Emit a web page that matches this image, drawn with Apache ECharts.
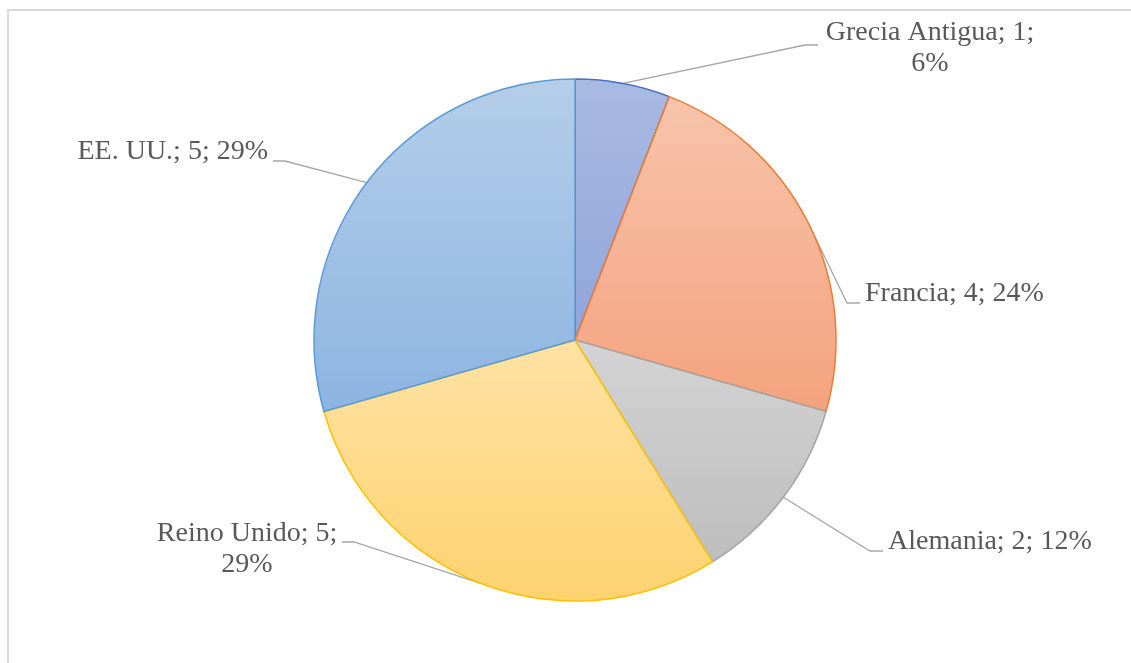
<!DOCTYPE html>
<html>
<head>
<meta charset="utf-8">
<script src="https://cdn.jsdelivr.net/npm/echarts@6/dist/echarts.min.js"></script>
<style>
  html, body { margin: 0; padding: 0; background: #fff; overflow: hidden; }
  .frame { position: absolute; left: 7px; top: 9px; width: 1124px; height: 654px; border-top: 2px solid #d9d9d9; border-left: 2px solid #d9d9d9; box-sizing: border-box; }
  #mainChart { position: absolute; left: 0; top: 0; width: 1131px; height: 663px; }
</style>
</head>
<body>
<div class="frame"></div>
<div id="mainChart"></div>
<script>
// datos
let categories = ['Grecia Antigua', 'Francia', 'Alemania', 'Reino Unido', 'EE. UU.'];
let values = [1, 4, 2, 5, 5];

// colores (relleno degradado arriba/abajo y borde)
let topColors = ['#a9bae2', '#f8c4ab', '#d4d4d4', '#ffe3a4', '#b5cee9'];
let bottomColors = ['#90a5db', '#f4a27e', '#bdbdbd', '#ffd26f', '#8cb4e2'];
let borderColors = ['#4472c4', '#ed7d31', '#a5a5a5', '#ffc000', '#5b9bd5'];

// posicion de etiquetas: [x, y, align, finLineaX, finLineaY]
let labelSpots = [
  [930, 48, 'center', 818, 45],
  [865, 294, 'left', 860, 303],
  [888, 542, 'left', 883, 551],
  [247, 549, 'center', 342, 542],
  [268, 152, 'right', 273, 161]
];

let chartData = [];
for (let i = 0; i < categories.length; i++) {
  chartData.push({
    name: categories[i],
    value: values[i],
    itemStyle: {
      color: new echarts.graphic.LinearGradient(0, 0, 0, 1, [
        { offset: 0, color: topColors[i] },
        { offset: 1, color: bottomColors[i] }
      ]),
      borderColor: borderColors[i]
    }
  });
}

let option = {
  animation: false,
  series: [{
    type: 'pie',
    center: [575, 340],
    radius: 261,
    startAngle: 90,
    clockwise: true,
    percentPrecision: 0,
    itemStyle: { borderWidth: 1.5 },
    emphasis: { disabled: true },
    data: chartData,
    label: {
      show: true,
      position: 'outside',
      fontFamily: 'Liberation Serif, Times New Roman, serif',
      fontSize: 28,
      lineHeight: 31,
      color: '#595959',
      formatter: function (p) {
        let sep = p.name.length > 10 ? '\n' : ' ';
        return p.name + '; ' + p.value + ';' + sep + p.percent + '%';
      }
    },
    labelLine: {
      show: true,
      length: 20,
      length2: 12,
      lineStyle: { color: '#a6a6a6', width: 1.3 }
    },
    labelLayout: function (params) {
      let s = labelSpots[params.dataIndex];
      let start = params.labelLinePoints[0];
      let bendX = s[2] === 'right' || (s[2] === 'center' && s[3] < 575) ? s[3] + 12 : s[3] - 13;
      return {
        x: s[0],
        y: s[1],
        align: s[2],
        verticalAlign: 'middle',
        labelLinePoints: [start, [bendX, s[4]], [s[3], s[4]]]
      };
    }
  }]
};

let chart = echarts.init(document.getElementById('mainChart'));
chart.setOption(option);
window.addEventListener('resize', chart.resize);
</script>
</body>
</html>
